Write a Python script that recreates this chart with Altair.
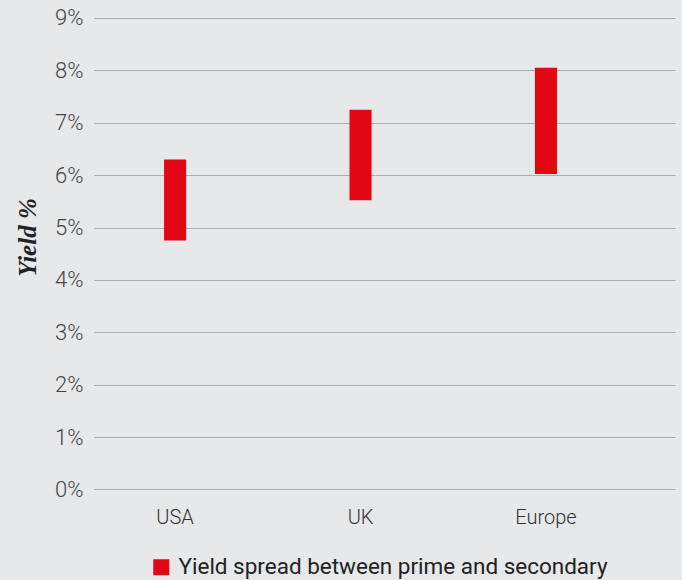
import altair as alt
import pandas as pd

# Prime vs secondary yield range by market (percent)
regions = ["USA", "UK", "Europe"]
prime_yield = [4.75, 5.52, 6.02]
secondary_yield = [6.30, 7.25, 8.05]
series_name = "Yield spread between prime and secondary"

df = pd.DataFrame({
    "region": regions,
    "low": prime_yield,
    "high": secondary_yield,
    "series": [series_name] * len(regions),
})

BG = "#e7e8ea"
RED = "#e30613"
FONT = "Roboto"

bars = alt.Chart(df).mark_bar(cornerRadius=0).encode(
    x=alt.X(
        "region:N",
        sort=regions,
        scale=alt.Scale(paddingInner=0.881, paddingOuter=0.507, align=0.3725),
        axis=alt.Axis(
            title=None, labelAngle=0, domain=False, ticks=False, grid=False,
            labelFont=FONT, labelFontSize=20, labelFontWeight=300,
            labelColor="#333333", labelPadding=18,
        ),
    ),
    y=alt.Y(
        "low:Q",
        scale=alt.Scale(domain=[0, 9], nice=False),
        axis=alt.Axis(
            title="Yield %", values=list(range(0, 10)), format=".0f",
            labelExpr="datum.value + '%'",
            domain=False, ticks=False, grid=True,
            gridColor="#aaaaaa", gridWidth=1.2,
            labelFont=FONT, labelFontSize=22, labelFontWeight=300,
            labelColor="#444444", labelPadding=11,
            titleFont="Liberation Serif", titleFontSize=25,
            titleFontStyle="italic", titleFontWeight="bold",
            titleColor="#222222", titleX=-67, titleY=219,
            titleBaseline="middle",
        ),
    ),
    y2="high:Q",
    color=alt.Color(
        "series:N",
        scale=alt.Scale(domain=[series_name], range=[RED]),
        legend=alt.Legend(
            title=None, orient="none", legendX=56, legendY=538,
            symbolType="square", symbolSize=256, symbolStrokeWidth=0,
            symbolOpacity=1, padding=0,
            labelFont=FONT, labelFontSize=22.5, labelColor="#222222",
            labelOffset=6, labelLimit=600,
        ),
    ),
)

chart = bars.properties(
    width=581,
    height=471.4,
    background=BG,
    padding={"left": 94, "top": 18, "right": 7, "bottom": 91},
    autosize=alt.AutoSizeParams(type="none"),
).configure_view(stroke=None, fill=BG)

chart.save("out.html", embed_options={"renderer": "svg", "actions": False})
